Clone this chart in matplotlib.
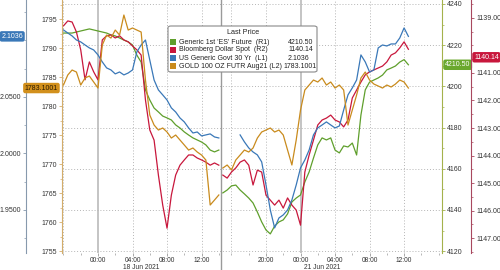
import matplotlib
matplotlib.use('Agg')
import matplotlib.pyplot as plt
import matplotlib.ticker as mticker
import numpy as np
import pandas as pd
from matplotlib.patches import FancyBboxPatch, Rectangle
from matplotlib.lines import Line2D

plt.rcParams['font.family'] = ['Liberation Sans', 'DejaVu Sans']

# ---------------- data ----------------
sess1_times = pd.date_range('2021-06-17 20:00', '2021-06-18 14:00', freq='30min')
sess2_times = pd.date_range('2021-06-20 15:00', '2021-06-21 12:30', freq='30min')

es_s1 = [4225.9, 4225.9, 4225.9, 4226.4, 4226.9, 4227.4, 4227.9, 4227.4, 4226.9, 4226.4,
         4225.9, 4225.0, 4224.5, 4223.5, 4222.5, 4221.6, 4220.1, 4215.2, 4211.8,
         4198.3, 4193.4, 4189.5, 4187.6, 4185.6, 4184.7, 4183.7, 4181.3, 4179.8, 4177.9,
         4176.4, 4175.0, 4174.0, 4173.0, 4171.6, 4169.1, 4168.2, 4169.1]
es_s2 = [4148.3, 4149.7, 4151.7, 4152.1, 4149.7, 4147.8, 4145.8, 4143.4, 4139.0, 4134.2,
         4130.3, 4128.4, 4132.2, 4134.2, 4135.2, 4138.1, 4143.9, 4145.8, 4147.3, 4153.6,
         4158.5, 4165.2, 4171.6, 4175.0, 4174.0, 4175.0, 4169.1, 4167.7, 4171.1, 4170.6,
         4172.5, 4166.7, 4186.1, 4198.3, 4202.1, 4203.1, 4204.1, 4205.5, 4208.0, 4208.9,
         4209.9, 4211.8, 4213.0, 4210.5]

dxy_s1 = [1139.29, 1139.11, 1139.15, 1139.51, 1140.16, 1141.25, 1140.60, 1140.96, 1141.25, 1139.80,
          1139.65, 1139.62, 1139.73, 1139.65, 1139.80, 1139.87, 1140.02, 1140.16, 1140.35, 1141.98,
          1143.07, 1143.44, 1144.71, 1145.80, 1146.64, 1145.44, 1144.71, 1144.35, 1144.16, 1143.98,
          1143.98, 1144.09, 1144.16, 1144.24, 1144.35, 1144.27, 1144.35]
dxy_s2 = [1144.71, 1144.82, 1144.60, 1144.45, 1144.24, 1144.16, 1144.35, 1145.07, 1144.53, 1144.60,
          1145.44, 1145.62, 1145.80, 1145.62, 1145.91, 1145.54, 1145.80, 1145.98, 1146.53, 1144.60,
          1143.98, 1143.44, 1142.89, 1142.71, 1142.64, 1142.53, 1142.71, 1142.78, 1142.96, 1142.71,
          1141.91, 1141.62, 1141.33, 1141.07, 1140.96, 1140.89, 1140.82, 1140.75, 1140.60, 1140.35,
          1140.27, 1140.09, 1139.87, 1140.14]

yld_s1 = [2.1093, 2.1066, 2.1040, 2.1004, 2.0987, 2.0960, 2.0934, 2.0916, 2.0872, 2.0810,
          2.0757, 2.0739, 2.0704, 2.0721, 2.0695, 2.0712, 2.0739, 2.0898, 2.0960, 2.1004,
          2.0827, 2.0650, 2.0562, 2.0518, 2.0473, 2.0403, 2.0367, 2.0314, 2.0279, 2.0226,
          2.0181, 2.0190, 2.0155, 2.0164, 2.0173, 2.0146, 2.0137]
yld_s2 = [np.nan, np.nan, np.nan, np.nan,
          2.0164, 2.0102, 2.0049, 2.0013, 1.9987, 1.9925,
          1.9721, 1.9500, 1.9341, 1.9429, 1.9456, 1.9500, 1.9588, 1.9721, 1.9872, 1.9942,
          2.0031, 2.0164, 2.0226, 2.0252, 2.0279, 2.0252, 2.0226, 2.0243, 2.0385, 2.0518,
          2.0580, 2.0650, 2.0872, 2.0810, 2.0721, 2.0739, 2.0934, 2.0960, 2.0951, 2.0969,
          2.0969, 2.1022, 2.1111, 2.1036]

gold_s1 = [1783.62, 1785.35, 1786.21, 1785.86, 1783.62, 1784.83, 1785.17, 1784.14, 1783.10, 1790.52,
           1792.24, 1791.72, 1793.10, 1792.24, 1795.69, 1793.10, 1793.45, 1793.10, 1792.76, 1784.48,
           1778.45, 1776.72, 1775.86, 1776.21, 1775.52, 1774.48, 1775.00, 1774.14, 1773.28, 1772.41,
           1772.76, 1772.07, 1771.55, 1770.69, 1762.93, 1763.79, 1764.66]
gold_s2 = [1769.31, 1769.83, 1768.97, 1770.69, 1771.55, 1772.41, 1772.07, 1772.76, 1774.48, 1775.52,
           1775.86, 1776.21, 1775.52, 1775.86, 1775.00, 1772.41, 1769.83, 1774.14, 1779.31, 1782.76,
           1783.62, 1784.48, 1784.14, 1784.83, 1783.62, 1784.14, 1783.10, 1783.62, 1782.76, 1776.72,
           1779.31, 1781.90, 1784.83, 1785.86, 1784.48, 1783.79, 1783.45, 1783.10, 1783.62, 1783.28,
           1783.79, 1784.48, 1784.14, 1783.10]

series_names = ["Generic 1st 'ES' Future  (R1)", "Bloomberg Dollar Spot  (R2)",
                "US Generic Govt 30 Yr  (L1)", "GOLD 100 OZ FUTR Aug21 (L2)"]
last_labels = ["4210.50", "1140.14", "2.1036", "1783.1001"]
c_es, c_dxy, c_yld, c_gold = '#5f9f2c', '#c8173c', '#3a78b8', '#c98b1d'

major_times = pd.to_datetime(['2021-06-18 00:00', '2021-06-18 04:00', '2021-06-18 08:00',
                              '2021-06-18 12:00', '2021-06-20 20:00', '2021-06-21 00:00',
                              '2021-06-21 04:00', '2021-06-21 08:00', '2021-06-21 12:00'])
grid_times = pd.to_datetime(['2021-06-17 20:00', '2021-06-18 04:00', '2021-06-18 08:00',
                             '2021-06-18 12:00', '2021-06-20 16:00', '2021-06-20 20:00',
                             '2021-06-21 04:00', '2021-06-21 08:00', '2021-06-21 12:00'])
midnight_times = pd.to_datetime(['2021-06-18 00:00', '2021-06-21 00:00'])
minor_times = pd.date_range('2021-06-17 20:00', '2021-06-18 14:00', freq='2h').append(
    pd.date_range('2021-06-20 16:00', '2021-06-21 16:00', freq='2h'))
date_labels = ['18 Jun 2021', '21 Jun 2021']
date_label_times = pd.to_datetime(['2021-06-18 05:00', '2021-06-21 02:30'])

# ---------------- compressed time axis (weekend removed) ----------------
DAY0 = pd.Timestamp('2021-06-18 00:00')
GAP_START = pd.Timestamp('2021-06-18 14:12')
GAP_END = pd.Timestamp('2021-06-20 14:44')
GAP_H = (GAP_END - GAP_START) / pd.Timedelta('1h')


def tpos(ts):
    ts = pd.DatetimeIndex(ts)
    h = np.asarray((ts - DAY0) / pd.Timedelta('1h'), dtype=float)
    return np.where(ts >= GAP_END, h - GAP_H, h)


x1, x2 = tpos(sess1_times), tpos(sess2_times)
gap_x = tpos([GAP_START])[0]

fig = plt.figure(figsize=(5, 2.7), dpi=100)
ax_es = fig.add_axes([0.124, 0.063, 0.76, 0.937])
ax_dxy = ax_es.twinx()
ax_yld = ax_es.twinx()
ax_gold = ax_es.twinx()

ax_es.set_xlim(-4.17, 39.86)
ax_es.set_ylim(4119.13, 4241.94)
ax_gold.set_ylim(1754.66, 1798.28)
ax_yld.set_ylim(1.9119, 2.1358)
ax_dxy.set_ylim(1147.54, 1138.35)

PX = 72.0 / 100.0  # points per pixel

# grid / separators on host
for g in tpos(grid_times):
    ax_es.axvline(g, color='#b5b5b5', lw=0.7, ls=(0, (1, 2)), zorder=0)
for m in tpos(midnight_times):
    ax_es.axvline(m, color='#c4c4c4', lw=1.4, zorder=0)
for yv in np.arange(4120, 4241, 20):
    ax_es.axhline(yv, color='#b5b5b5', lw=0.7, ls=(0, (1, 2)), zorder=0)
ax_es.add_line(Line2D([gap_x, gap_x], [-0.075, 1], transform=ax_es.get_xaxis_transform(),
                      clip_on=False, color='#9a9a9a', lw=1.0))

lw = 0.9
ax_es.plot(x1, es_s1, color=c_es, lw=lw)
ax_es.plot(x2, es_s2, color=c_es, lw=lw)
ax_dxy.plot(x1, dxy_s1, color=c_dxy, lw=lw)
ax_dxy.plot(x2, dxy_s2, color=c_dxy, lw=lw)
ax_yld.plot(x1, yld_s1, color=c_yld, lw=lw)
ax_yld.plot(x2, yld_s2, color=c_yld, lw=lw)
ax_gold.plot(x1, gold_s1, color=c_gold, lw=lw)
ax_gold.plot(x2, gold_s2, color=c_gold, lw=lw)

for a in (ax_es, ax_dxy, ax_yld, ax_gold):
    for s in a.spines.values():
        s.set_visible(False)

tick_kw = dict(labelsize=5, length=2.5, width=0.6, pad=1.2)
minor_kw = dict(length=1.5, width=0.5)


def style_axis(ax, color):
    ax.tick_params(axis='y', which='major', colors=color, **tick_kw)
    ax.tick_params(axis='y', which='minor', colors=color, **minor_kw)
    ax.tick_params(axis='y', labelcolor='#333333')


# R1 (ES) right
ax_es.yaxis.tick_right()
ax_es.spines['right'].set_visible(True)
ax_es.spines['right'].set_color('#a4b24c')
ax_es.set_yticks(np.arange(4120, 4241, 20))
ax_es.yaxis.set_minor_locator(mticker.MultipleLocator(10))
style_axis(ax_es, '#a4b24c')

# R2 (DXY) right, outward
ax_dxy.spines['right'].set_visible(True)
ax_dxy.spines['right'].set_position(('outward', 29 * PX))
ax_dxy.spines['right'].set_color('#a8485e')
ax_dxy.set_yticks([1139, 1141, 1142, 1143, 1144, 1145, 1146, 1147])
ax_dxy.yaxis.set_major_formatter(mticker.FormatStrFormatter('%.2f'))
ax_dxy.yaxis.set_minor_locator(mticker.MultipleLocator(0.5))
style_axis(ax_dxy, '#a8485e')

# L1 (yield) left, outward
ax_yld.yaxis.tick_left()
ax_yld.spines['left'].set_visible(True)
ax_yld.spines['left'].set_position(('outward', 36 * PX))
ax_yld.spines['left'].set_color('#8799ad')
ax_yld.set_yticks([1.95, 2.00, 2.05])
ax_yld.yaxis.set_major_formatter(mticker.FormatStrFormatter('%.4f'))
ax_yld.yaxis.set_minor_locator(mticker.MultipleLocator(0.025))
style_axis(ax_yld, '#8799ad')

# L2 (gold) left
ax_gold.yaxis.tick_left()
ax_gold.spines['left'].set_visible(True)
ax_gold.spines['left'].set_color('#d4ad6a')
ax_gold.set_yticks(np.arange(1755, 1796, 5))
ax_gold.yaxis.set_minor_locator(mticker.MultipleLocator(2.5))
style_axis(ax_gold, '#d4ad6a')

# x axis
ax_es.set_xticks(tpos(major_times))
ax_es.set_xticklabels([t.strftime('%H:%M') for t in major_times])
ax_es.set_xticks(tpos(minor_times), minor=True)
ax_es.tick_params(axis='x', which='major', labelsize=4.8, length=2.0, width=0.6, pad=0.6,
                  colors='#999999', labelcolor='#333333')
ax_es.tick_params(axis='x', which='minor', length=1.5, width=0.5, colors='#999999')
for lab, t in zip(date_labels, tpos(date_label_times)):
    ax_es.text(t, -0.056, lab, transform=ax_es.get_xaxis_transform(), fontsize=4.8,
               ha='center', va='center', color='#333333')


# last-value tags
def tag(ax, val, text, side, dx, fc, tc, dy=0):
    ax.annotate(text, xy=(0 if side == 'left' else 1, val), xycoords=ax.get_yaxis_transform(),
                xytext=(dx, dy), textcoords='offset pixels', fontsize=5, color=tc,
                ha='right' if side == 'left' else 'left', va='center', annotation_clip=False,
                bbox=dict(boxstyle='round,pad=0.25,rounding_size=0.3', fc=fc, ec='none'))


tag(ax_yld, yld_s2[-1], last_labels[2], 'left', -39, c_yld, 'white')
tag(ax_gold, gold_s2[-1], last_labels[3], 'left', -4, '#d2901c', '#2a1a00')
tag(ax_es, es_s2[-1], last_labels[0], 'right', 3, '#6aa82e', 'white')
tag(ax_dxy, dxy_s2[-1], last_labels[1], 'right', 32, c_dxy, 'white', dy=-8)

# legend box
W, H = 500.0, 270.0
LFS = 5.0
fig.add_artist(FancyBboxPatch((168 / W, 1 - 72 / H), 149 / W, 46 / H,
                              boxstyle='round,pad=0,rounding_size=0.006',
                              transform=fig.transFigure, fc='white', ec='#8a8a8a', lw=0.8))
fig.text(243 / W, 1 - 33 / H, 'Last Price', fontsize=LFS + 0.2, ha='center', va='center',
         color='#222222')
row_y = [42, 50, 58, 66]
val_x = [288, 288, 288, 283]
for name, val, col, ry, vx in zip(series_names, last_labels, [c_es, c_dxy, c_yld, c_gold],
                                  row_y, val_x):
    fig.add_artist(Rectangle((170 / W, 1 - (ry + 3) / H), 6 / W, 6 / H,
                             transform=fig.transFigure, fc=col, ec='none'))
    fig.text(179 / W, 1 - ry / H, name, fontsize=LFS, ha='left', va='center', color='#222222')
    fig.text(vx / W, 1 - ry / H, val, fontsize=LFS, ha='left', va='center', color='#222222')

fig.savefig('out.png', dpi=100)
